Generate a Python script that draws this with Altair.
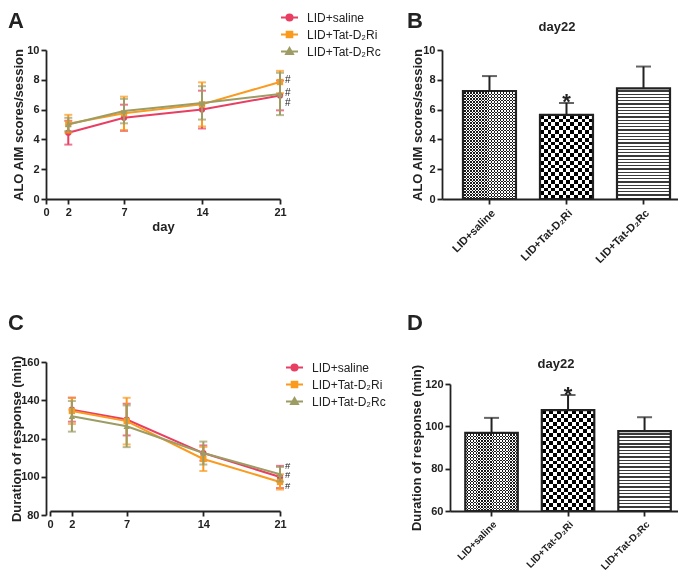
import altair as alt
import pandas as pd

FONT = "Liberation Sans"
INK = "#222222"

groups = ["LID+saline", "LID+Tat-D\u2082Ri", "LID+Tat-D\u2082Rc"]
colors = ["#E83E62", "#FA9A1E", "#9C9C64"]
marker_shapes = ["circle", "square", "triangle-up"]
days = [2, 7, 14, 21]
day_ticks = [0, 2, 7, 14, 21]

# Panel A: ALO AIM scores (mean, sem)
a_saline_mean = [4.45, 5.45, 6.0, 6.95]
a_saline_sem = [0.8, 0.88, 1.27, 1.0]
a_ri_mean = [5.05, 5.75, 6.35, 7.85]
a_ri_sem = [0.6, 1.12, 1.48, 0.75]
a_rc_mean = [5.0, 5.9, 6.45, 7.05]
a_rc_sem = [0.45, 0.82, 1.12, 1.42]
a_hash_y = [8.0, 7.11, 6.44]

# Panel B: day22 ALO AIM
b_mean = [7.25, 5.65, 7.42]
b_sem = [1.0, 0.8, 1.47]

# Panel C: duration of response
c_saline_mean = [133.0, 127.8, 110.3, 97.8]
c_saline_sem = [6.3, 8.3, 4.0, 5.8]
c_ri_mean = [132.3, 127.0, 107.2, 95.2]
c_ri_sem = [6.8, 12.2, 6.3, 4.0]
c_rc_mean = [129.5, 124.3, 110.3, 99.2]
c_rc_sem = [8.0, 10.9, 6.0, 3.8]
c_hash_y = [103.7, 98.6, 93.1]

# Panel D: day22 duration
d_mean = [96.9, 107.7, 97.7]
d_sem = [7.1, 7.1, 6.6]

# legend symbols: line with marker (unit box -1..1)
legend_paths = [
    "M-1,0L1,0M-0.36,0A0.36,0.36 0 1,0 0.36,0A0.36,0.36 0 1,0 -0.36,0Z",
    "M-1,0L1,0M-0.33,-0.33L0.33,-0.33L0.33,0.33L-0.33,0.33Z",
    "M-1,0L1,0M0,-0.42L0.4,0.28L-0.4,0.28Z",
]


def long_df(means, sems):
    rows = []
    for g, m, s in zip(groups, means, sems):
        for d, mv, sv in zip(days, m, s):
            rows.append({"grp": g, "day": d, "mean": mv, "lo": mv - sv, "hi": mv + sv})
    return pd.DataFrame(rows)


def line_panel(df, ydom, yticks, ytitle, xtitle, title_x, legend_x, legend_y,
               hash_vals, hash_size, letter, letter_x, letter_y, width, height,
               x_range=None, axis_pos=None):
    xs_kwargs = dict(domain=[0, 21], nice=False, zero=False)
    if x_range is not None:
        xs_kwargs["range"] = x_range
    xscale = alt.Scale(**xs_kwargs)
    xax_kwargs = dict(values=day_ticks, tickCount=30, format="d", labelPadding=2, titlePadding=3)
    xax_kwargs["title"] = xtitle
    x = alt.X("day:Q", scale=xscale, axis=alt.Axis(**xax_kwargs))
    yax_kwargs = dict(values=yticks, tickCount=30, format="d", title=ytitle, titleX=title_x, labelPadding=2)
    if axis_pos is not None:
        yax_kwargs["position"] = axis_pos
    yscale = alt.Scale(domain=ydom, nice=False, zero=False)
    y = alt.Y("mean:Q", scale=yscale, axis=alt.Axis(**yax_kwargs))
    ylo = alt.Y("lo:Q", scale=yscale)
    yhi = alt.Y("hi:Q", scale=yscale)

    layers = []
    for g, shp, c in zip(groups, marker_shapes, colors):
        sub = alt.Chart(df[df.grp == g])
        layers.append(sub.mark_line(color=c, strokeWidth=2).encode(x=x, y=y))
        layers.append(sub.mark_rule(color=c, strokeWidth=2).encode(x=x, y=ylo, y2="hi:Q"))
        layers.append(sub.mark_tick(color=c, orient="horizontal", size=8, thickness=2).encode(x=x, y=ylo))
        layers.append(sub.mark_tick(color=c, orient="horizontal", size=8, thickness=2).encode(x=x, y=yhi))
        layers.append(sub.mark_point(color=c, filled=True, shape=shp, size=40, opacity=1).encode(x=x, y=y))

    leg = dict(orient="none", legendX=legend_x, legendY=legend_y, title=None,
               labelFont=FONT, labelFontSize=12, labelFontWeight="normal", labelColor=INK,
               symbolSize=289, symbolStrokeWidth=2, symbolOpacity=1, rowPadding=0, labelOffset=8)
    carrier = alt.Chart(df).mark_point(filled=True, opacity=0, size=10).encode(
        x=x, y=y,
        fill=alt.Fill("grp:N", scale=alt.Scale(domain=groups, range=colors), legend=alt.Legend(**leg)),
        stroke=alt.Stroke("grp:N", scale=alt.Scale(domain=groups, range=colors), legend=alt.Legend(**leg)),
        shape=alt.Shape("grp:N", scale=alt.Scale(domain=groups, range=legend_paths), legend=alt.Legend(**leg)),
    )
    layers.append(carrier)
    hdf = pd.DataFrame({"day": [21] * len(hash_vals), "mean": hash_vals, "t": ["#"] * len(hash_vals)})
    layers.append(alt.Chart(hdf).mark_text(align="left", baseline="middle", dx=5, fontSize=hash_size,
                                           font=FONT, color=INK).encode(x=x, y=y, text="t:N"))
    ldf = pd.DataFrame({"t": [letter]})
    layers.append(alt.Chart(ldf).mark_text(align="left", baseline="alphabetic", fontSize=22,
                                           fontWeight="bold", font=FONT, color=INK).encode(
        x=alt.value(letter_x), y=alt.value(letter_y), text="t:N"))
    return alt.layer(*layers).properties(width=width, height=height)


def stripe_grad(n, c1, c2, frac, direction):
    stops = []
    for k in range(n):
        a = round(k / n, 5)
        m = round((k + frac) / n, 5)
        b = round((k + 1) / n, 5)
        stops += [alt.GradientStop(offset=a, color=c1), alt.GradientStop(offset=m, color=c1),
                  alt.GradientStop(offset=m, color=c2), alt.GradientStop(offset=b, color=c2)]
    if direction == "rows":
        return alt.LinearGradient(gradient="linear", stops=stops, x1=0, x2=0, y1=0, y2=1)
    return alt.LinearGradient(gradient="linear", stops=stops, x1=0, x2=1, y1=0, y2=0)


def bar_panel(means, sems, ydom, yticks, ytitle, title_x, width, height, y_range, px_per_unit,
              pad_inner, pad_outer, align, label_size, star_dy, head_x, head_y,
              letter, letter_x, letter_y, bar_w):
    base_val = ydom[0]
    df = pd.DataFrame({"grp": groups, "mean": means, "sem": sems})
    df["hi"] = df["mean"] + df["sem"]
    df["base"] = base_val
    x = alt.X("grp:N", sort=groups,
              scale=alt.Scale(domain=groups, paddingInner=pad_inner, paddingOuter=pad_outer, align=align),
              axis=alt.Axis(labelAngle=-45, title=None, labelFontSize=label_size, labelPadding=3))
    ys_kwargs = dict(domain=ydom, nice=False, zero=False)
    if y_range is not None:
        ys_kwargs["range"] = y_range
    yscale = alt.Scale(**ys_kwargs)
    y = alt.Y("mean:Q", scale=yscale,
              axis=alt.Axis(values=yticks, tickCount=30, format="d", title=ytitle, titleX=title_x,
                            labelPadding=2))
    y2 = alt.Y2("base:Q")
    layers = []
    for i, g in enumerate(groups):
        sub = df[df.grp == g]
        h = (means[i] - base_val) * px_per_unit
        b = alt.Chart(sub)
        if i == 0:
            ncol = max(1, round(bar_w / 3.0))
            nrow = max(1, round(h / 3.0))
            layers.append(b.mark_bar(fill=stripe_grad(ncol, "#ffffff", "#000000", 0.5, "cols"),
                                     strokeWidth=0).encode(x=x, y=y, y2=y2))
            layers.append(b.mark_bar(fill=stripe_grad(nrow, "#ffffff", "#000000", 0.5, "rows"),
                                     blend="difference", strokeWidth=0).encode(x=x, y=y, y2=y2))
            layers.append(b.mark_bar(fill="rgba(255,255,255,0.1)", strokeWidth=0).encode(x=x, y=y, y2=y2))
        elif i == 1:
            ncol = max(1, round(bar_w / 7.6))
            nrow = max(1, round(h / 7.6))
            layers.append(b.mark_bar(fill=stripe_grad(ncol, "#ffffff", "#000000", 0.5, "cols"),
                                     strokeWidth=0).encode(x=x, y=y, y2=y2))
            layers.append(b.mark_bar(fill=stripe_grad(nrow, "#ffffff", "#000000", 0.5, "rows"),
                                     blend="difference", strokeWidth=0).encode(x=x, y=y, y2=y2))
        else:
            nrow = max(1, round(h / 3.3))
            layers.append(b.mark_bar(fill=stripe_grad(nrow, "#ffffff", "#3a3a3a", 0.58, "rows"),
                                     strokeWidth=0).encode(x=x, y=y, y2=y2))
    bdf = alt.Chart(df)
    layers.append(bdf.mark_bar(fill="transparent", stroke=INK, strokeWidth=2.2).encode(x=x, y=y, y2=y2))
    layers.append(bdf.mark_rule(color=INK, strokeWidth=2).encode(x=x, y=y, y2="hi:Q"))
    layers.append(bdf.mark_tick(orient="horizontal", size=15, thickness=2, color=INK).encode(
        x=x, y=alt.Y("hi:Q", scale=yscale)))
    sdf = df[df.grp == groups[1]].assign(t="*")
    layers.append(alt.Chart(sdf).mark_text(fontSize=22, fontWeight="bold", font=FONT, color=INK,
                                           baseline="alphabetic", dy=star_dy).encode(
        x=x, y=alt.Y("hi:Q", scale=yscale), text="t:N"))
    tdf = pd.DataFrame({"t": [letter, "day22"]})
    layers.append(alt.Chart(tdf.iloc[[0]]).mark_text(align="left", baseline="alphabetic", fontSize=22,
                                                     fontWeight="bold", font=FONT, color=INK).encode(
        x=alt.value(letter_x), y=alt.value(letter_y), text="t:N"))
    layers.append(alt.Chart(tdf.iloc[[1]]).mark_text(align="center", baseline="middle", fontSize=13,
                                                     fontWeight="bold", font=FONT, color=INK).encode(
        x=alt.value(head_x), y=alt.value(head_y), text="t:N"))
    return alt.layer(*layers).properties(width=width, height=height)


dfA = long_df([a_saline_mean, a_ri_mean, a_rc_mean], [a_saline_sem, a_ri_sem, a_rc_sem])
dfC = long_df([c_saline_mean, c_ri_mean, c_rc_mean], [c_saline_sem, c_ri_sem, c_rc_sem])

A = line_panel(dfA, [0, 10], [0, 2, 4, 6, 8, 10], "ALO AIM scores/session", "day", -21,
               234, -42, a_hash_y, 10, "A", -38, -22, 234, 149)
B = bar_panel(b_mean, b_sem, [0, 10], [0, 2, 4, 6, 8, 10], "ALO AIM scores/session", -18,
              236, 149, None, 14.9, 0.3117, 0.188, 0.724, 11, 6, 115, -23, "B", -35, -22, 53)
C = line_panel(dfC, [80, 160], [80, 100, 120, 140, 160], "Duration of response (min)", None, -23,
               239, 0, c_hash_y, 9.5, "C", -38, -28, 234, 153, x_range=[4, 234], axis_pos=4)
D = bar_panel(d_mean, d_sem, [60, 120], [60, 80, 100, 120], "Duration of response (min)", -27,
              228, 153, [153, 26], 127 / 60, 0.314, 0.147, 0.68, 10, 7, 106, 6, "D", -43, -28, 52.6)

ind = dict(fill="independent", stroke="independent", shape="independent")
top = alt.hconcat(A, B, spacing=162, bounds="flush").resolve_scale(**ind).resolve_legend(**ind)
bottom = alt.hconcat(C, D, spacing=170, bounds="flush").resolve_scale(**ind).resolve_legend(**ind)
chart = alt.vconcat(top, bottom, spacing=47).resolve_scale(**ind).resolve_legend(**ind).properties(
    padding={"left": 0, "top": 0, "right": 0, "bottom": 0}
).configure(font=FONT).configure_view(strokeOpacity=0).configure_axis(
    domainColor=INK, domainWidth=1.8, tickColor=INK, tickWidth=1.8, tickSize=5,
    labelColor=INK, labelFont=FONT, labelFontSize=11, labelFontWeight="bold", labelOverlap=False,
    labelFlush=False,
    titleFont=FONT, titleFontSize=13, titleFontWeight="bold", titleColor=INK, grid=False,
)

chart.save("out.html", embed_options={"renderer": "svg", "actions": False})
